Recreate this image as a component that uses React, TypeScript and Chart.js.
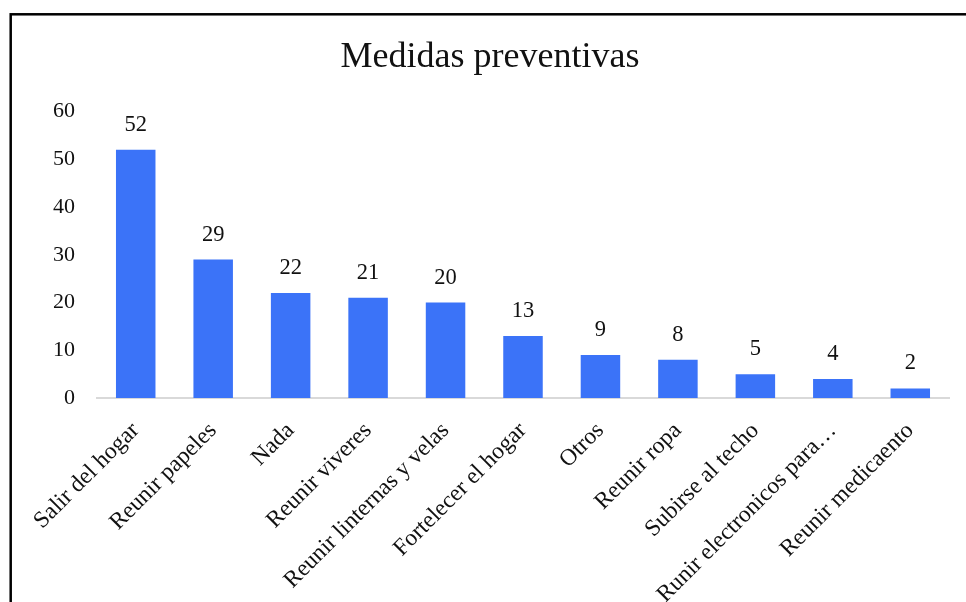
import { useEffect, useRef } from "react";
import { Chart, registerables } from "chart.js";

Chart.register(...registerables);

// Survey answers: preventive measures taken
const categories = [
  "Salir del hogar",
  "Reunir papeles",
  "Nada",
  "Reunir viveres",
  "Reunir linternas y velas",
  "Fortelecer el hogar",
  "Otros",
  "Reunir ropa",
  "Subirse al techo",
  "Runir electronicos para…",
  "Reunir medicaento",
];
const values = [52, 29, 22, 21, 20, 13, 9, 8, 5, 4, 2];
const yMin = 0;
const yMax = 60;
const yStep = 10;

const SERIF = '"Liberation Serif", "Times New Roman", Times, serif';
const BAR_COLOR = "#3b73f8";

// Value labels above each bar
const valueLabels = {
  id: "valueLabels",
  afterDatasetsDraw(chart: any) {
    const ctx = chart.ctx;
    const meta = chart.getDatasetMeta(0);
    ctx.save();
    ctx.font = `22.5px ${SERIF}`;
    ctx.fillStyle = "#111";
    ctx.textAlign = "center";
    ctx.textBaseline = "alphabetic";
    meta.data.forEach((bar: any, i: number) => {
      const v = chart.data.datasets[0].data[i];
      ctx.fillText(String(v), bar.x, bar.y - 19);
    });
    ctx.restore();
  },
};

// Outer frame around the chart
const frame = {
  id: "frame",
  afterDraw(chart: any) {
    const ctx = chart.ctx;
    ctx.save();
    ctx.strokeStyle = "#000";
    ctx.lineWidth = 2.5;
    ctx.strokeRect(10.7, 14.3, chart.width + 20, chart.height + 20);
    ctx.restore();
  },
};

export default function App() {
  const ref = useRef<HTMLCanvasElement>(null);

  useEffect(() => {
    if (!ref.current) return;
    const chart = new Chart(ref.current, {
      type: "bar",
      data: {
        labels: categories,
        datasets: [
          {
            data: values,
            backgroundColor: BAR_COLOR,
            categoryPercentage: 1,
            barPercentage: 0.51,
          },
        ],
      },
      options: {
        animation: false,
        responsive: false,
        devicePixelRatio: 1,
        layout: { padding: { left: 31, right: 17, top: 36, bottom: 0 } },
        plugins: {
          legend: { display: false },
          tooltip: { enabled: false },
          title: {
            display: true,
            text: "Medidas preventivas",
            color: "#111",
            font: { family: SERIF, size: 36, weight: "normal" },
            padding: { top: 0, bottom: 32.5 },
          },
        },
        scales: {
          x: {
            grid: { display: false },
            border: { display: true, color: "#d9d9d9", width: 2 },
            ticks: {
              color: "#111",
              font: { family: SERIF, size: 23.5 },
              minRotation: 45,
              maxRotation: 45,
              autoSkip: false,
              padding: 11,
            },
            afterFit(scale: any) {
              scale.height = 204;
            },
          },
          y: {
            min: yMin,
            max: yMax,
            grid: { display: false },
            border: { display: false },
            ticks: {
              stepSize: yStep,
              color: "#111",
              font: { family: SERIF, size: 22 },
              padding: 14,
            },
            afterFit(scale: any) {
              scale.width = 66;
            },
          },
        },
      },
      plugins: [valueLabels, frame],
    });
    return () => chart.destroy();
  }, []);

  return (
    <div style={{ position: "fixed", left: 0, top: 0, width: 966, height: 602, background: "#fff" }}>
      <canvas ref={ref} width={966} height={602} />
    </div>
  );
}
